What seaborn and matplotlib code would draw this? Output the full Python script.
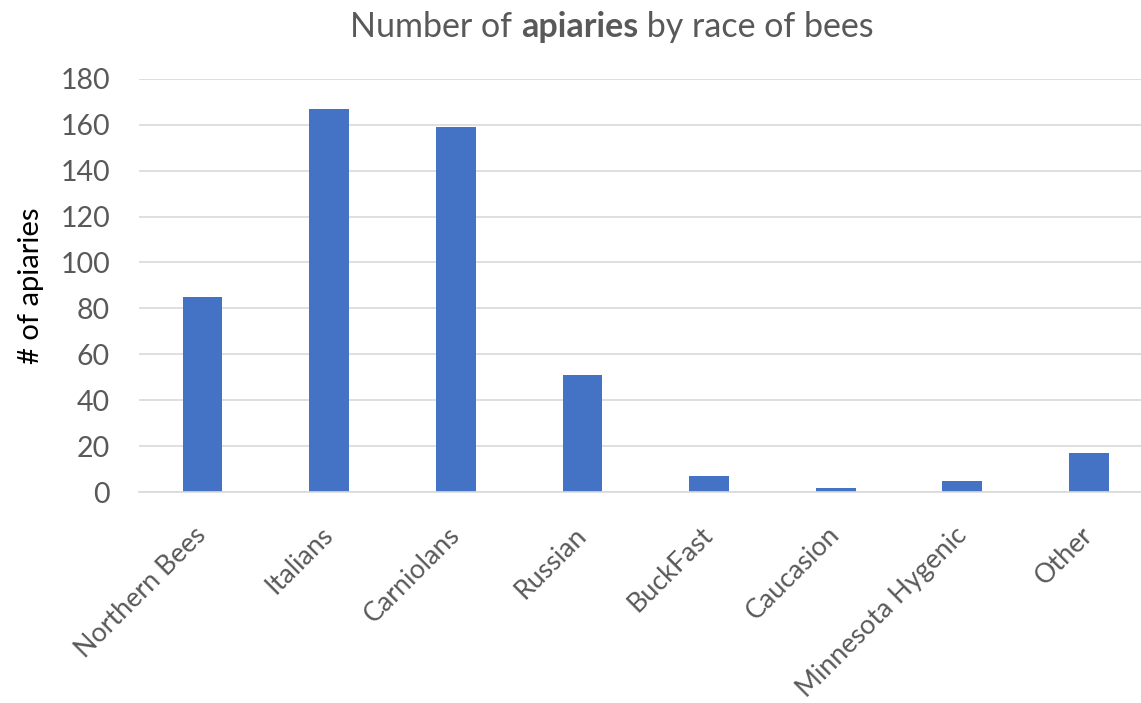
import matplotlib
matplotlib.use("Agg")
import matplotlib.pyplot as plt
import seaborn as sns
import pandas as pd

races = ["Northern Bees", "Italians", "Carniolans", "Russian", "BuckFast",
         "Caucasion", "Minnesota Hygenic", "Other"]
apiaries = [85, 167, 159, 51, 7, 2, 5, 17]
y_ticks = [0, 20, 40, 60, 80, 100, 120, 140, 160, 180]

sns.set_theme(style="white")
plt.rcParams["font.family"] = ["Lato", "DejaVu Sans"]

df = pd.DataFrame({"race": races, "apiaries": apiaries})

fig = plt.figure(figsize=(11.41, 7.03), dpi=100)
ax = fig.add_axes([0.122, 0.30, 0.888, 0.588])

sns.barplot(data=df, x="race", y="apiaries", color="#4472C4", saturation=1,
            width=0.315, ax=ax, linewidth=0)

ax.set_ylim(0, 180)
ax.set_xlim(-0.5, len(races) - 0.5)
ax.set_yticks(y_ticks)
ax.set_yticklabels([str(t) for t in y_ticks], fontsize=20.5, color="#595959")
ax.set_xticks(range(len(races)))
ax.set_xticklabels(races, rotation=45, ha="right", va="center",
                   rotation_mode="anchor", fontsize=19.3, color="#595959")
ax.tick_params(axis="y", length=0, pad=21)
ax.tick_params(axis="x", length=0, pad=28)

ax.yaxis.grid(True, color="#D9D9D9", linewidth=1.2)
ax.set_axisbelow(True)
for side in ["top", "right", "left"]:
    ax.spines[side].set_visible(False)
ax.spines["bottom"].set_color("#D9D9D9")
ax.spines["bottom"].set_linewidth(1.2)

ax.set_xlabel("")
ax.set_ylabel("# of apiaries", fontsize=21, color="black", labelpad=12)

# Title with a bold middle word, centred as a whole
title_parts = [("Number of ", "normal"), ("apiaries", "bold"),
               (" by race of bees", "normal")]
title_y = 0.962
title_size = 24.5
fig.canvas.draw()
renderer = fig.canvas.get_renderer()
widths = []
for txt, wt in title_parts:
    probe = fig.text(0, 0, txt, fontsize=title_size, fontweight=wt)
    widths.append(probe.get_window_extent(renderer).width)
    probe.remove()
total = sum(widths)
x_px = 612 - total / 2
for (txt, wt), w in zip(title_parts, widths):
    fig.text(x_px / fig.bbox.width, title_y, txt, ha="left", va="center",
             fontsize=title_size, fontweight=wt, color="#595959")
    x_px += w

fig.savefig("out.png", dpi=100)
